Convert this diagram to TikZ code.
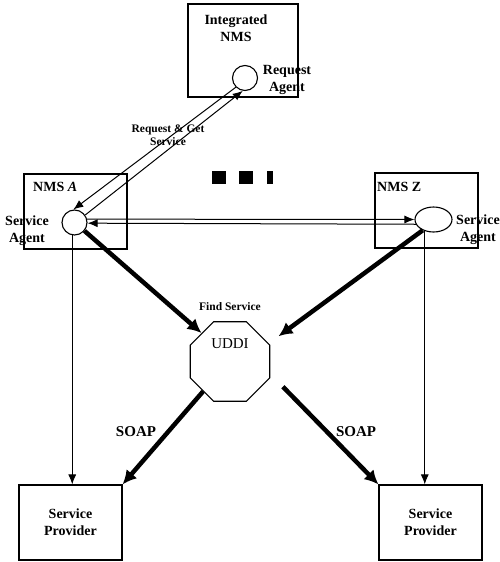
\documentclass[tikz,border=0pt]{standalone}
\usepackage{fontspec}
\setmainfont{Liberation Serif}
\usetikzlibrary{arrows.meta,shapes.misc,shapes.geometric,calc}
\begin{document}
\begin{tikzpicture}[x=1pt,y=-1pt,
  box/.style={draw, line width=1.1pt, inner sep=0, minimum width=103pt, minimum height=75pt},
  agent/.style={draw, circle, line width=1.1pt, inner sep=0, minimum size=25pt},
  txt/.style={font=\bfseries\fontsize{14}{17}\selectfont, align=center, inner sep=0},
  smalltxt/.style={font=\bfseries\fontsize{11.5}{13}\selectfont, align=center, inner sep=0},
  thinarr/.style={line width=1pt, -{Latex[length=10pt,width=8pt]}},
  thickarr/.style={line width=4.5pt, -{Latex[length=14pt,width=14pt]}}
]
\useasboundingbox (0,0) rectangle (500,562);

% boxes
\node[box, minimum width=110pt, minimum height=93pt] (inms) at (243,50.5) {};
\node[box] (nmsa) at (75.5,211.5) {};
\node[box] (nmsz) at (426.5,210.5) {};
\node[box, txt] (lsp) at (70.5,522.5) {Service\\Provider};
\node[box, txt] (rsp) at (430.5,522.5) {Service\\Provider};

% agents
\node[agent] (ia) at (245,78) {};
\node[agent] (a) at (74.5,222.5) {};
\node[draw, ellipse, line width=1.1pt, inner sep=0, minimum width=37pt, minimum height=25pt] (z) at (433.5,219.5) {};

% UDDI
\node[draw, regular polygon, regular polygon sides=8,
      line width=1.1pt, inner sep=0, minimum size=86pt,
      label={[anchor=north, inner sep=0, yshift=-17pt, font=\fontsize{15}{17}\selectfont]north:UDDI}] (uddi) at (230,361.5) {};

% labels
\node[txt] (tinms) at (236,28) {Integrated\\NMS};
\node[txt] (treq) at (287,80) {Request\\Agent};
\node[smalltxt] (treqget) at (168,135) {Request \& Get\\Service};
\node[txt, anchor=west] (tnmsa) at (33,187) {NMS \textit{A}};
\node[txt, anchor=west] (tnmsz) at (377,187) {NMS Z};
\node[txt] (tsa) at (27,231) {Service\\Agent};
\node[txt] (tsz) at (478,230) {Service\\Agent};
\node[smalltxt] (tfind) at (230,307) {Find Service};
\node[txt, font=\bfseries\fontsize{15}{17}\selectfont] (tsoapl) at (136,432) {SOAP};
\node[txt, font=\bfseries\fontsize{15}{17}\selectfont] (tsoapr) at (356,432) {SOAP};

% dots
\fill (212,171) rectangle (226,184);
\fill (239,171) rectangle (253,184);
\fill (267,171) rectangle (273,184);

% double connectors
\draw[thinarr] (ia.225) -- (a.95);
\draw[thinarr] (a.35) -- (ia.260);
\draw[thinarr] (a.15) -- (z.180);
\draw[thinarr] (z.195) -- (a.-3);

% thin verticals
\draw[thinarr] (a.260) -- (a.260 |- lsp.north);
\draw[thinarr] (z.233) -- (z.233 |- rsp.north);

% thick arrows
\draw[thickarr] (a.-40) -- (uddi.135);
\draw[thickarr, shorten >=12pt] (z.225) -- (uddi.25);
\draw[thickarr] (uddi.228) -- (lsp.north east);
\draw[thickarr, shorten <=18pt] (uddi.-17) -- (rsp.north west);
\end{tikzpicture}
\end{document}
